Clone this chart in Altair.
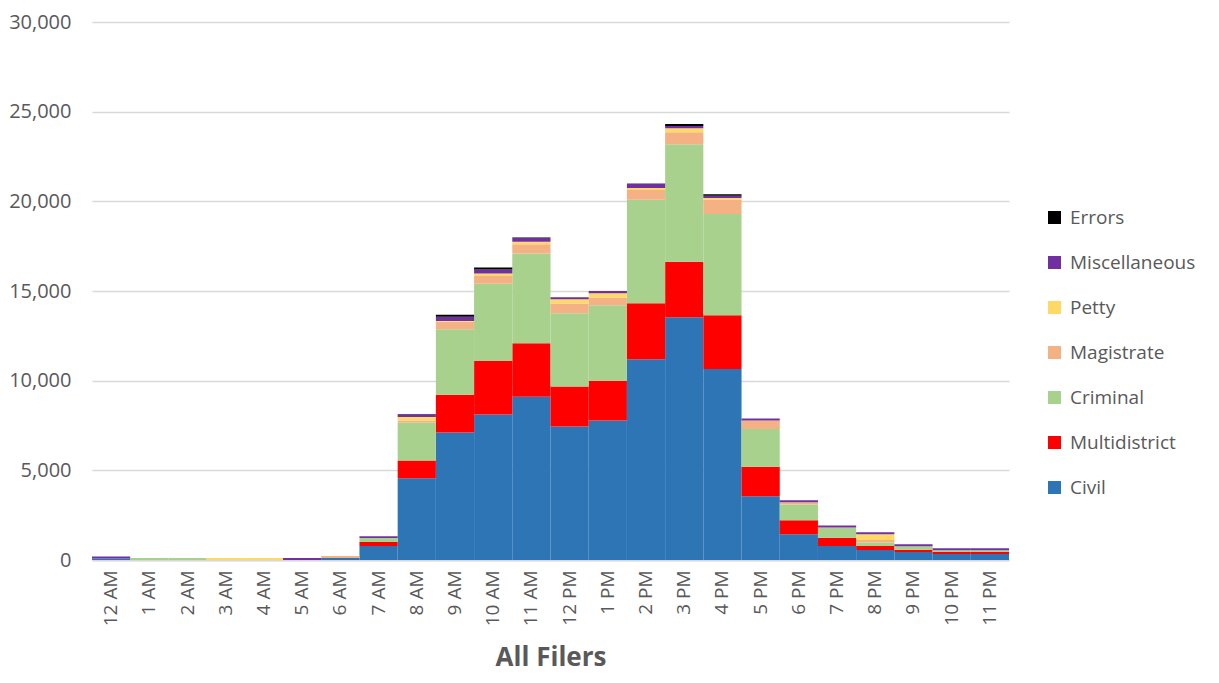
import altair as alt
import pandas as pd

hours = ["12 AM", "1 AM", "2 AM", "3 AM", "4 AM", "5 AM", "6 AM", "7 AM", "8 AM", "9 AM",
         "10 AM", "11 AM", "12 PM", "1 PM", "2 PM", "3 PM", "4 PM", "5 PM", "6 PM", "7 PM",
         "8 PM", "9 PM", "10 PM", "11 PM"]

civil = [80, 0, 0, 0, 0, 0, 110, 780, 4555, 7110, 8110, 9110, 7440, 7780, 11200, 13540,
         10650, 3560, 1440, 780, 560, 440, 330, 330]
multidistrict = [0, 0, 0, 0, 0, 0, 0, 220, 1000, 2110, 2980, 2980, 2230, 2220, 3120, 3090,
                 3000, 1640, 780, 460, 220, 130, 110, 110]
criminal = [0, 110, 110, 0, 0, 0, 0, 220, 2110, 3650, 4320, 5000, 4090, 4200, 5770, 6560,
            5650, 2110, 870, 540, 200, 200, 110, 110]
magistrate = [0, 0, 0, 0, 0, 0, 110, 0, 110, 410, 420, 520, 540, 430, 540, 660,
              790, 470, 130, 30, 130, 0, 0, 0]
petty = [0, 0, 0, 110, 110, 0, 0, 0, 200, 50, 150, 130, 240, 240, 110, 220,
         90, 0, 0, 0, 330, 0, 0, 0]
miscellaneous = [110, 0, 0, 0, 0, 110, 0, 110, 150, 240, 220, 220, 110, 130, 240, 130,
                 130, 110, 110, 110, 110, 110, 110, 110]
errors = [0, 0, 0, 0, 0, 0, 0, 0, 20, 100, 110, 20, 0, 0, 20, 110,
          90, 0, 0, 0, 0, 0, 0, 0]

series_names = ["Civil", "Multidistrict", "Criminal", "Magistrate", "Petty", "Miscellaneous", "Errors"]
series_values = [civil, multidistrict, criminal, magistrate, petty, miscellaneous, errors]
series_colors = ["#2E75B6", "#FF0000", "#A9D18E", "#F4B183", "#FFD966", "#7030A0", "#000000"]

rows = []
for idx, (name, vals) in enumerate(zip(series_names, series_values)):
    for h, v in zip(hours, vals):
        if v > 0:
            rows.append({"hour": h, "type": name, "count": v, "ord": idx})
df = pd.DataFrame(rows)

legend_domain = series_names[::-1]
legend_range = series_colors[::-1]

FONT = "Open Sans"
GREY = "#595959"

chart = alt.Chart(df).mark_bar().encode(
    x=alt.X("hour:N", sort=hours,
            scale=alt.Scale(paddingInner=0, paddingOuter=0),
            axis=alt.Axis(title="All Filers", labelAngle=-90, labelFontSize=19,
                          labelColor=GREY, labelFont=FONT, ticks=False,
                          labelPadding=10, domainColor="#D9D9D9", domainWidth=2,
                          titleFont=FONT, titleFontSize=26, titleFontWeight="bold",
                          titleColor=GREY, titlePadding=19, labelBaseline="middle",
                          labelAlign="right")),
    y=alt.Y("count:Q", stack="zero",
            scale=alt.Scale(domain=[0, 30000], nice=False),
            axis=alt.Axis(title=None, values=[0, 5000, 10000, 15000, 20000, 25000, 30000],
                          format=",.0f", labelFontSize=20, labelColor=GREY, labelFont=FONT,
                          ticks=False, domain=False, gridColor="#D9D9D9", gridWidth=1.5,
                          labelPadding=21)),
    color=alt.Color("type:N",
                    scale=alt.Scale(domain=legend_domain, range=legend_range),
                    legend=alt.Legend(title=None, orient="none", legendX=953, legendY=186,
                                      symbolType="square", symbolSize=170,
                                      symbolStrokeWidth=0, labelFontSize=19,
                                      labelColor=GREY, labelFont=FONT, rowPadding=25,
                                      labelOffset=6)),
    order=alt.Order("ord:Q", sort="ascending"),
).properties(
    width=917, height=538,
    padding={"left": 0, "top": 4, "right": 5, "bottom": 2},
).configure_view(stroke=None)

chart.save("out.html", embed_options={"renderer": "svg", "actions": False})
